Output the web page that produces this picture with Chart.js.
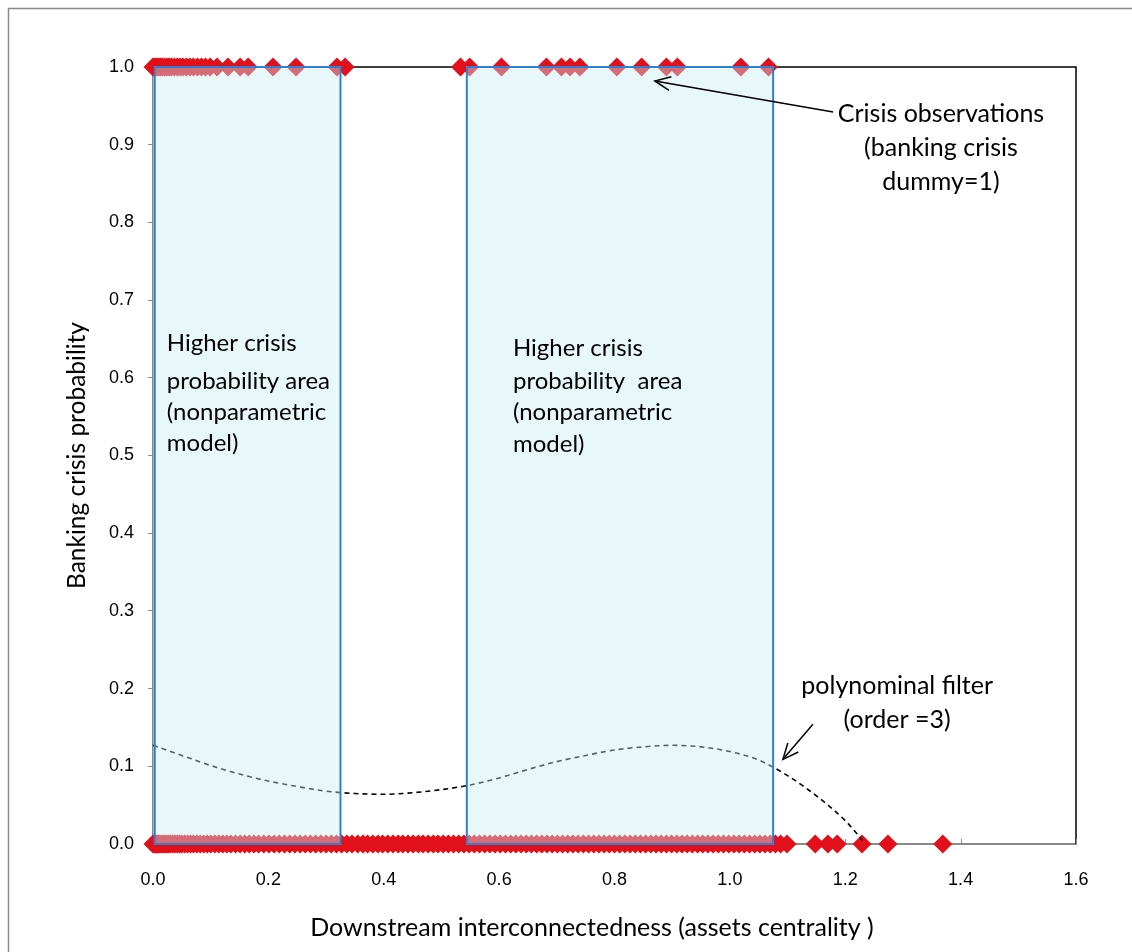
<!DOCTYPE html>
<html>
<head>
<meta charset="utf-8">
<script src="https://cdn.jsdelivr.net/npm/chart.js@4.4.1/dist/chart.umd.min.js"></script>
<style>
  html, body { margin: 0; padding: 0; background: #ffffff; }
  #wrap { width: 1132px; height: 952px; }
</style>
</head>
<body>
<div id="wrap"><canvas id="c" width="1132" height="952"></canvas></div>
<script>
// ---------------- DATA ----------------
// crisis observations (banking crisis dummy = 1)
const crisisX = [0, 0.002, 0.004, 0.007, 0.010, 0.013, 0.016, 0.020, 0.024, 0.028,
  0.032, 0.037, 0.042, 0.047, 0.052, 0.058, 0.064, 0.070, 0.077, 0.084, 0.091, 0.099,
  0.111, 0.130, 0.151, 0.165, 0.208, 0.248, 0.319, 0.333,
  0.533, 0.549, 0.604, 0.682, 0.708, 0.723, 0.740, 0.804, 0.847, 0.890, 0.909, 1.019, 1.067];
// non-crisis observations (dummy = 0)
const calmX = [0, 0.002, 0.004, 0.006, 0.008, 0.010, 0.012, 0.015, 0.018, 0.021, 0.024,
  0.027, 0.030, 0.034, 0.038, 0.042, 0.046, 0.050, 0.055, 0.060, 0.065, 0.070, 0.076,
  0.082, 0.088, 0.094, 0.100, 0.107, 0.114, 0.121, 0.128, 0.135, 0.143, 0.151, 0.159,
  0.167, 0.175, 0.183, 0.192, 0.201, 0.210, 0.219, 0.228, 0.237, 0.246, 0.255, 0.264,
  0.273, 0.282, 0.291, 0.300, 0.309, 0.318, 0.327, 0.336, 0.345, 0.355, 0.364, 0.372,
  0.381, 0.390, 0.398, 0.407, 0.416, 0.425, 0.433, 0.442, 0.451, 0.460, 0.468, 0.477,
  0.486, 0.494, 0.503, 0.512, 0.521, 0.530, 0.539, 0.548, 0.557, 0.566, 0.575, 0.584,
  0.593, 0.602, 0.611, 0.620, 0.629, 0.638, 0.647, 0.656, 0.665, 0.674, 0.683, 0.692,
  0.701, 0.710, 0.719, 0.728, 0.737, 0.746, 0.755, 0.764, 0.773, 0.782, 0.791, 0.800,
  0.809, 0.818, 0.827, 0.836, 0.845, 0.854, 0.863, 0.872, 0.881, 0.890, 0.899, 0.908,
  0.917, 0.926, 0.935, 0.944, 0.953, 0.962, 0.971, 0.980, 0.989, 0.998, 1.007, 1.016,
  1.025, 1.034, 1.043, 1.052, 1.061, 1.070, 1.079, 1.088, 1.099,
  1.148, 1.170, 1.186, 1.229, 1.274, 1.369];
// polynomial filter (order = 3)
const filterX = [0.00, 0.05, 0.10, 0.15, 0.20, 0.25, 0.30, 0.35, 0.40, 0.45, 0.50, 0.55,
  0.60, 0.65, 0.70, 0.75, 0.80, 0.85, 0.90, 0.95, 1.00, 1.05, 1.10, 1.15, 1.20, 1.23];
const filterY = [0.127, 0.114, 0.101, 0.090, 0.081, 0.074, 0.068, 0.065, 0.064, 0.066,
  0.070, 0.076, 0.085, 0.096, 0.106, 0.114, 0.121, 0.125, 0.127, 0.125, 0.119, 0.108,
  0.088, 0.062, 0.030, 0.005];
// higher crisis probability areas (nonparametric model)
const regionStart = [0.003, 0.544];
const regionEnd = [0.325, 1.075];
const regionTop = 1.0;
const regionLabel = ["Higher crisis", "probability area", "(nonparametric", "model)"];
const regionLabel2 = ["Higher crisis", "probability  area", "(nonparametric", "model)"];
const crisisNote = ["Crisis observations", "(banking crisis", "dummy=1)"];
const filterNote = ["polynominal filter", "(order =3)"];
const xTitle = "Downstream interconnectedness (assets centrality )";
const yTitle = "Banking crisis probability";

// ---------------- build chart ----------------
const crisisPts = crisisX.map(x => ({x: x, y: 1}));
const calmPts = calmX.map(x => ({x: x, y: 0}));
const filterPts = filterX.map((x, i) => ({x: x, y: filterY[i]}));

const RED = 'rgb(226,16,26)';
const TEXT_FONT = '"Lato", "Open Sans", sans-serif';
const TICK_FONT = '"Liberation Sans", Arial, sans-serif';

const framePlugin = {
  id: 'frame',
  beforeDraw(chart) {
    const ctx = chart.ctx;
    ctx.save();
    ctx.fillStyle = '#ffffff';
    ctx.fillRect(0, 0, chart.width, chart.height);
    ctx.strokeStyle = '#8a8a8a';
    ctx.lineWidth = 1.5;
    ctx.beginPath();
    ctx.moveTo(8.5, chart.height + 2);
    ctx.lineTo(8.5, 8.5);
    ctx.lineTo(chart.width + 2, 8.5);
    ctx.stroke();
    // x axis title (centred on the whole chart, as in the original)
    ctx.fillStyle = '#000000';
    ctx.font = '25px ' + TEXT_FONT;
    ctx.textAlign = 'center';
    ctx.textBaseline = 'middle';
    ctx.fillText(xTitle, 592, 928);
    ctx.restore();
  },
  beforeDatasetsDraw(chart) {
    const {ctx, chartArea: a} = chart;
    ctx.save();
    ctx.strokeStyle = '#000000';
    ctx.lineWidth = 1.5;
    ctx.beginPath();
    ctx.moveTo(a.left, a.top);
    ctx.lineTo(a.right, a.top);
    ctx.lineTo(a.right, a.bottom);
    ctx.stroke();
    // inward tick marks on x axis
    const xs = chart.scales.x;
    ctx.strokeStyle = '#8a8a8a';
    ctx.lineWidth = 1;
    xs.ticks.forEach((t, i) => {
      const px = Math.round(xs.getPixelForTick(i)) + 0.5;
      ctx.beginPath();
      ctx.moveTo(px, a.bottom);
      ctx.lineTo(px, a.bottom - 5);
      ctx.stroke();
    });
    ctx.restore();
  },
  afterDatasetsDraw(chart) {
    const {ctx} = chart;
    const xs = chart.scales.x, ys = chart.scales.y;
    ctx.save();
    // shaded regions drawn over the markers
    regionStart.forEach((s, i) => {
      const x0 = xs.getPixelForValue(s), x1 = xs.getPixelForValue(regionEnd[i]);
      const y0 = ys.getPixelForValue(regionTop), y1 = ys.getPixelForValue(0);
      ctx.fillStyle = 'rgba(198,237,243,0.42)';
      ctx.fillRect(x0, y0, x1 - x0, y1 - y0);
      ctx.strokeStyle = '#2f7fd2';
      ctx.lineWidth = 2;
      ctx.strokeRect(x0, y0, x1 - x0, y1 - y0);
    });
    // texts
    ctx.fillStyle = '#000000';
    ctx.font = '24px ' + TEXT_FONT;
    ctx.textBaseline = 'middle';
    ctx.textAlign = 'left';
    const l1y = [0.645, 0.595, 0.555, 0.516];
    regionLabel.forEach((t, i) => ctx.fillText(t, xs.getPixelForValue(0.024), ys.getPixelForValue(l1y[i])));
    const l2y = [0.638, 0.595, 0.555, 0.515];
    regionLabel2.forEach((t, i) => ctx.fillText(t, xs.getPixelForValue(0.624), ys.getPixelForValue(l2y[i])));
    ctx.font = '25px ' + TEXT_FONT;
    ctx.textAlign = 'center';
    const cy = [0.9395, 0.896, 0.852];
    crisisNote.forEach((t, i) => ctx.fillText(t, xs.getPixelForValue(1.366), ys.getPixelForValue(cy[i])));
    const fy = [0.203, 0.160];
    filterNote.forEach((t, i) => ctx.fillText(t, xs.getPixelForValue(1.29), ys.getPixelForValue(fy[i])));
    // arrows
    const arrow = (tx, ty, hx, hy) => {
      const x0 = xs.getPixelForValue(tx), y0 = ys.getPixelForValue(ty);
      const x1 = xs.getPixelForValue(hx), y1 = ys.getPixelForValue(hy);
      const ang = Math.atan2(y1 - y0, x1 - x0);
      ctx.strokeStyle = '#000000';
      ctx.lineWidth = 1.5;
      ctx.beginPath();
      ctx.moveTo(x0, y0);
      ctx.lineTo(x1, y1);
      ctx.stroke();
      const L = 17, spread = 0.42;
      ctx.beginPath();
      ctx.moveTo(x1 - L * Math.cos(ang - spread), y1 - L * Math.sin(ang - spread));
      ctx.lineTo(x1, y1);
      ctx.lineTo(x1 - L * Math.cos(ang + spread), y1 - L * Math.sin(ang + spread));
      ctx.stroke();
    };
    arrow(1.179, 0.942, 0.870, 0.982);
    arrow(1.144, 0.154, 1.092, 0.109);
    ctx.restore();
  }
};

new Chart(document.getElementById('c'), {
  type: 'scatter',
  data: {
    datasets: [
      {
        label: 'polynominal filter',
        data: filterPts,
        showLine: true,
        borderColor: '#000000',
        borderWidth: 1.6,
        borderDash: [5, 4],
        pointRadius: 0,
        cubicInterpolationMode: 'monotone',
        clip: false
      },
      {
        label: 'crisis',
        data: crisisPts,
        pointStyle: 'rectRot',
        pointRadius: 9.5,
        backgroundColor: RED,
        borderColor: RED,
        borderWidth: 0,
        clip: false
      },
      {
        label: 'no crisis',
        data: calmPts,
        pointStyle: 'rectRot',
        pointRadius: 9.5,
        backgroundColor: RED,
        borderColor: RED,
        borderWidth: 0,
        clip: false
      }
    ]
  },
  options: {
    responsive: false,
    animation: false,
    devicePixelRatio: 1,
    layout: { padding: { left: 10, top: 67, right: 56, bottom: 0 } },
    plugins: { legend: { display: false }, tooltip: { enabled: false } },
    scales: {
      x: {
        type: 'linear', min: 0, max: 1.6,
        afterFit: s => { s.height = 108; },
        ticks: { stepSize: 0.2, padding: 25, color: '#000000',
          font: { family: TICK_FONT, size: 18 },
          callback: v => Number(v).toFixed(1) },
        grid: { display: true, drawOnChartArea: false, drawTicks: false, color: '#8a8a8a' },
        border: { display: true, color: '#8a8a8a', width: 2 },
        title: { display: false, text: xTitle }
      },
      y: {
        type: 'linear', min: 0, max: 1,
        afterFit: s => { s.width = 143; },
        ticks: { stepSize: 0.1, padding: 14, color: '#000000',
          font: { family: TICK_FONT, size: 18 },
          callback: v => Number(v).toFixed(1) },
        grid: { display: true, drawOnChartArea: false, drawTicks: true, tickLength: 5, color: '#8a8a8a' },
        border: { display: true, color: '#8a8a8a', width: 1.5 },
        title: { display: true, text: yTitle, color: '#000000',
          font: { family: TEXT_FONT, size: 24.5 }, padding: { top: 52, bottom: 0 } }
      }
    }
  },
  plugins: [framePlugin]
});
</script>
</body>
</html>
